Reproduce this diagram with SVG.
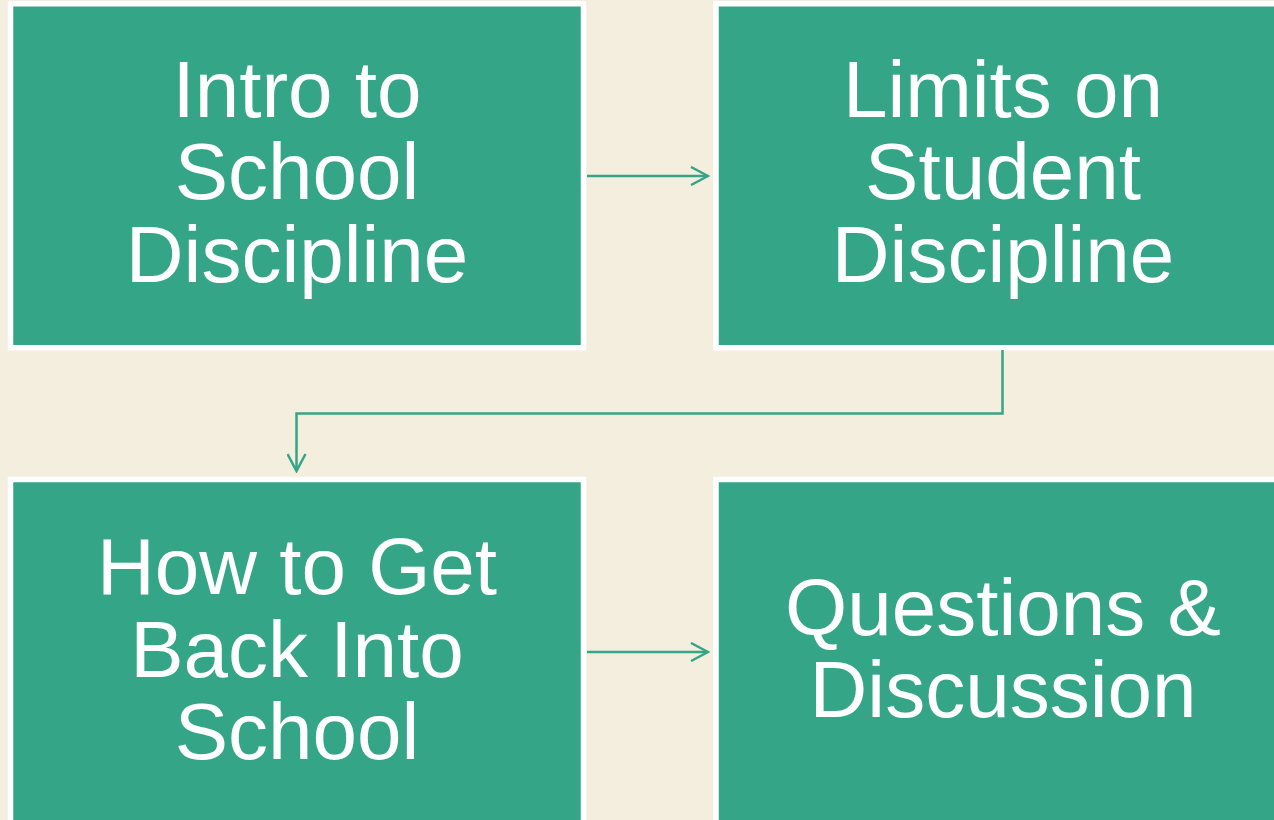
<svg xmlns="http://www.w3.org/2000/svg" width="1274" height="820" viewBox="0 0 1274 820">
  <style>
    .box { fill: #35A587; stroke: #FFFFFF; stroke-width: 5.5; }
    .label { fill: #FFFFFF; font-family: "Liberation Sans", Arial, sans-serif; font-size: 80px; text-anchor: middle; }
    .conn { fill: none; stroke: #35A587; stroke-width: 2.5; stroke-linejoin: miter; }
  </style>
  <defs>
    <marker id="chevron" viewBox="0 0 20 20" refX="18" refY="10" markerWidth="20" markerHeight="20" markerUnits="userSpaceOnUse" orient="auto">
      <path d="M1,1 L18,10 L1,19" fill="none" stroke="#35A587" stroke-width="2.5"/>
    </marker>
  </defs>
  <rect width="1274" height="820" fill="#F4EEDF"/>

  <g id="node-intro">
    <rect class="box" x="10.5" y="3.75" width="573" height="344"/>
    <text class="label" x="297" y="116.5">Intro to</text>
    <text class="label" x="297" y="199">School</text>
    <text class="label" x="297" y="282">Discipline</text>
  </g>

  <g id="node-limits">
    <rect class="box" x="716" y="3.75" width="573" height="344"/>
    <text class="label" x="1003" y="116.5">Limits on</text>
    <text class="label" x="1003" y="199">Student</text>
    <text class="label" x="1003" y="282">Discipline</text>
  </g>

  <g id="node-back">
    <rect class="box" x="10.5" y="479.5" width="573" height="344"/>
    <text class="label" x="297" y="594">How to Get</text>
    <text class="label" x="297" y="676.5">Back Into</text>
    <text class="label" x="297" y="759">School</text>
  </g>

  <g id="node-questions">
    <rect class="box" x="716" y="479.5" width="573" height="344"/>
    <text class="label" x="1003" y="635">Questions &amp;</text>
    <text class="label" x="1003" y="717">Discussion</text>
  </g>

  <g id="connectors">
    <path class="conn" d="M587,176 L708,176" marker-end="url(#chevron)"/>
    <path class="conn" d="M1002.5,350 L1002.5,413.5 L296.5,413.5 L296.5,471" marker-end="url(#chevron)"/>
    <path class="conn" d="M587,652 L708,652" marker-end="url(#chevron)"/>
  </g>
</svg>
